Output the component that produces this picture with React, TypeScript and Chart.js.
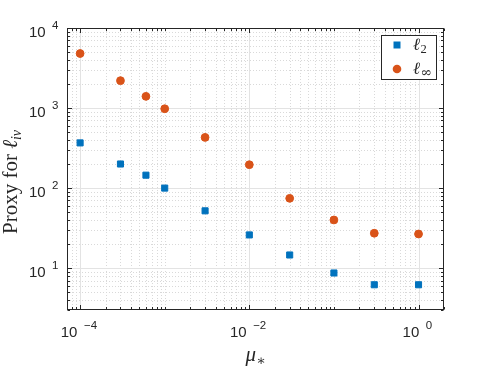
import React, { useEffect, useRef } from 'react';
import { Chart, registerables } from 'chart.js';

Chart.register(...registerables);

// ---- data ----
const muValues = [1e-4, 3e-4, 6e-4, 1e-3, 3e-3, 1e-2, 3e-2, 1e-1, 3e-1, 1];
const l2Values = [367, 200, 145, 100, 52, 26, 14.6, 8.7, 6.2, 6.2];
const lInfValues = [4800, 2200, 1400, 980, 430, 196, 74.5, 40, 27.3, 26.7];
const xTickExponents = [-4, -2, 0];
const yTickExponents = [1, 2, 3, 4];
const xLimits = [7e-5, 2];
const yLimits = [3, 1e4];
const seriesLabels = ['2', '∞'];

// ---- styles ----
const AXIS = '#262626';
const BLUE = '#0072BD';
const ORANGE = '#D95319';
const MAJOR_GRID = '#e3e3e3';
const MINOR_GRID = '#d9d9d9';
const SANS = "'Liberation Sans', Arial, sans-serif";
const SERIF = "'Liberation Serif', 'DejaVu Serif', serif";

function logValues(min: number, max: number): number[] {
  const out: number[] = [];
  const e0 = Math.floor(Math.log10(min));
  const e1 = Math.ceil(Math.log10(max));
  for (let e = e0; e <= e1; e++) {
    for (let m = 1; m < 10; m++) {
      const v = m * Math.pow(10, e);
      if (v >= min * 0.99999 && v <= max * 1.00001) out.push(v);
    }
  }
  return out;
}

function isMajor(v: number, exps: number[]): boolean {
  return exps.some((e) => Math.abs(Math.log10(v) - e) < 1e-6);
}

const matlabAxes = {
  id: 'matlabAxes',
  beforeDatasetsDraw(chart: any) {
    const { ctx, chartArea: a, scales } = chart;
    const xs = scales.x;
    const ys = scales.y;
    ctx.save();
    ctx.beginPath();
    ctx.rect(a.left, a.top, a.right - a.left, a.bottom - a.top);
    ctx.clip();
    ctx.lineWidth = 1;
    // minor grid (dotted)
    ctx.strokeStyle = MINOR_GRID;
    ctx.setLineDash([1, 2]);
    for (const v of logValues(xLimits[0], xLimits[1])) {
      if (isMajor(v, xTickExponents)) continue;
      const px = Math.round(xs.getPixelForValue(v)) + 0.5;
      ctx.beginPath();
      ctx.moveTo(px, a.top);
      ctx.lineTo(px, a.bottom);
      ctx.stroke();
    }
    for (const v of logValues(yLimits[0], yLimits[1])) {
      if (isMajor(v, yTickExponents)) continue;
      const py = Math.round(ys.getPixelForValue(v)) + 0.5;
      ctx.beginPath();
      ctx.moveTo(a.left, py);
      ctx.lineTo(a.right, py);
      ctx.stroke();
    }
    // major grid (solid)
    ctx.setLineDash([]);
    ctx.strokeStyle = MAJOR_GRID;
    for (const e of xTickExponents) {
      const px = Math.round(xs.getPixelForValue(Math.pow(10, e))) + 0.5;
      ctx.beginPath();
      ctx.moveTo(px, a.top);
      ctx.lineTo(px, a.bottom);
      ctx.stroke();
    }
    for (const e of yTickExponents) {
      const py = Math.round(ys.getPixelForValue(Math.pow(10, e))) + 0.5;
      ctx.beginPath();
      ctx.moveTo(a.left, py);
      ctx.lineTo(a.right, py);
      ctx.stroke();
    }
    ctx.restore();
  },
  afterDatasetsDraw(chart: any) {
    const { ctx, chartArea: a, scales } = chart;
    const xs = scales.x;
    const ys = scales.y;
    const L = Math.round(a.left) + 0.5;
    const R = Math.round(a.right) - 0.5;
    const T = Math.round(a.top) + 0.5;
    const B = Math.round(a.bottom) - 0.5;
    ctx.save();
    ctx.strokeStyle = AXIS;
    ctx.lineWidth = 1;
    ctx.setLineDash([]);
    ctx.strokeRect(L, T, R - L, B - T);

    // ticks (inward, all four sides)
    ctx.beginPath();
    for (const v of logValues(xLimits[0], xLimits[1])) {
      const len = isMajor(v, xTickExponents) ? 4.5 : 2.5;
      const px = Math.round(xs.getPixelForValue(v)) + 0.5;
      ctx.moveTo(px, B);
      ctx.lineTo(px, B - len);
      ctx.moveTo(px, T);
      ctx.lineTo(px, T + len);
    }
    for (const v of logValues(yLimits[0], yLimits[1])) {
      const len = isMajor(v, yTickExponents) ? 4.5 : 2.5;
      const py = Math.round(ys.getPixelForValue(v)) + 0.5;
      ctx.moveTo(L, py);
      ctx.lineTo(L + len, py);
      ctx.moveTo(R, py);
      ctx.lineTo(R - len, py);
    }
    ctx.stroke();

    // tick labels 10^e
    ctx.fillStyle = AXIS;
    ctx.textBaseline = 'alphabetic';
    ctx.textAlign = 'left';
    const baseFont = `15px ${SANS}`;
    const expFont = `11.5px ${SANS}`;
    const gap = 6.5;
    const expText = (e: number) => (e < 0 ? '\u2212' + Math.abs(e) : String(e));
    for (const e of xTickExponents) {
      const px = xs.getPixelForValue(Math.pow(10, e));
      ctx.font = baseFont;
      const w10 = ctx.measureText('10').width;
      ctx.font = expFont;
      const wE = ctx.measureText(expText(e)).width;
      const total = w10 + gap + wE;
      const x0 = px - total / 2 - 1.2;
      const by = a.bottom + 27;
      ctx.font = baseFont;
      ctx.fillText('10', x0, by);
      ctx.font = expFont;
      ctx.fillText(expText(e), x0 + w10 + gap, by - 8);
    }
    for (const e of yTickExponents) {
      const py = ys.getPixelForValue(Math.pow(10, e));
      ctx.font = expFont;
      const wE = ctx.measureText(expText(e)).width;
      ctx.font = baseFont;
      const w10 = ctx.measureText('10').width;
      const right = a.left - 8.5;
      const x0 = right - wE - gap - w10;
      const by = py + 8.5;
      ctx.fillText('10', x0, by);
      ctx.font = expFont;
      ctx.fillText(expText(e), x0 + w10 + gap, by - 8);
    }

    // x axis title: mu_*
    ctx.font = `italic 21px ${SERIF}`;
    const wMu = ctx.measureText('μ').width;
    ctx.font = `14px ${SERIF}`;
    const wStar = ctx.measureText('∗').width;
    const cx = (a.left + a.right) / 2;
    const mx = cx - (wMu + wStar) / 2;
    ctx.font = `italic 21px ${SERIF}`;
    ctx.fillText('μ', mx, 361);
    ctx.font = `14px ${SERIF}`;
    ctx.fillText('∗', mx + wMu + 0.5, 365);

    // y axis title: Proxy for l_iv
    ctx.save();
    ctx.translate(17, 234);
    ctx.rotate(-Math.PI / 2);
    ctx.font = `21px ${SERIF}`;
    const p = 'Proxy for ';
    ctx.fillText(p, 0, 0);
    let off = ctx.measureText(p).width;
    ctx.font = `italic 21px ${SERIF}`;
    ctx.fillText('ℓ', off, 0);
    off += ctx.measureText('ℓ').width;
    ctx.font = `italic 14px ${SERIF}`;
    ctx.fillText('iv', off, 4);
    ctx.restore();

    // legend
    const bx = 381.5, byy = 35.5, bw = 55, bh = 44;
    ctx.fillStyle = '#ffffff';
    ctx.fillRect(bx, byy, bw, bh);
    ctx.strokeStyle = AXIS;
    ctx.strokeRect(bx, byy, bw, bh);
    const metas = chart.data.datasets;
    const rows = [45, 69];
    const subFonts = [`12.5px ${SERIF}`, `14px 'DejaVu Serif', serif`];
    rows.forEach((ry, i) => {
      const ds = metas[i];
      ctx.fillStyle = ds.backgroundColor;
      ctx.beginPath();
      if (ds.pointStyle === 'rect') {
        ctx.rect(397 - 3.5, ry - 3.5, 7, 7);
      } else {
        ctx.arc(397, ry, 4.3, 0, Math.PI * 2);
      }
      ctx.fill();
      ctx.fillStyle = AXIS;
      ctx.font = `italic 17px ${SERIF}`;
      ctx.fillText('ℓ', 413, ry + 5);
      const wl = ctx.measureText('ℓ').width;
      ctx.font = subFonts[i];
      ctx.fillText(seriesLabels[i], 413 + wl + 0.5, ry + 8);
    });
    ctx.restore();
  },
};

export default function App() {
  const ref = useRef<HTMLCanvasElement | null>(null);
  useEffect(() => {
    if (!ref.current) return;
    const chart = new Chart(ref.current, {
      type: 'scatter',
      data: {
        datasets: [
          {
            label: 'ℓ2',
            data: muValues.map((x, i) => ({ x, y: l2Values[i] })),
            pointStyle: 'rect',
            pointRadius: 4.3,
            backgroundColor: BLUE,
            borderColor: BLUE,
            borderWidth: 1,
          },
          {
            label: 'ℓ∞',
            data: muValues.map((x, i) => ({ x, y: lInfValues[i] })),
            pointStyle: 'circle',
            pointRadius: 3.9,
            backgroundColor: ORANGE,
            borderColor: ORANGE,
            borderWidth: 1,
          },
        ],
      },
      options: {
        responsive: false,
        animation: false,
        events: [],
        layout: { padding: { left: 67, top: 28, right: 47, bottom: 59 } },
        scales: {
          x: { type: 'logarithmic', min: xLimits[0], max: xLimits[1], display: false },
          y: { type: 'logarithmic', min: yLimits[0], max: yLimits[1], display: false },
        },
        plugins: { legend: { display: false }, tooltip: { enabled: false } },
      },
      plugins: [matlabAxes],
    } as any);
    return () => chart.destroy();
  }, []);
  return (
    <div style={{ position: 'absolute', left: 0, top: 0, width: 491, height: 369, background: '#fff' }}>
      <canvas ref={ref} width={491} height={369} style={{ display: 'block', width: 491, height: 369 }} />
    </div>
  );
}
